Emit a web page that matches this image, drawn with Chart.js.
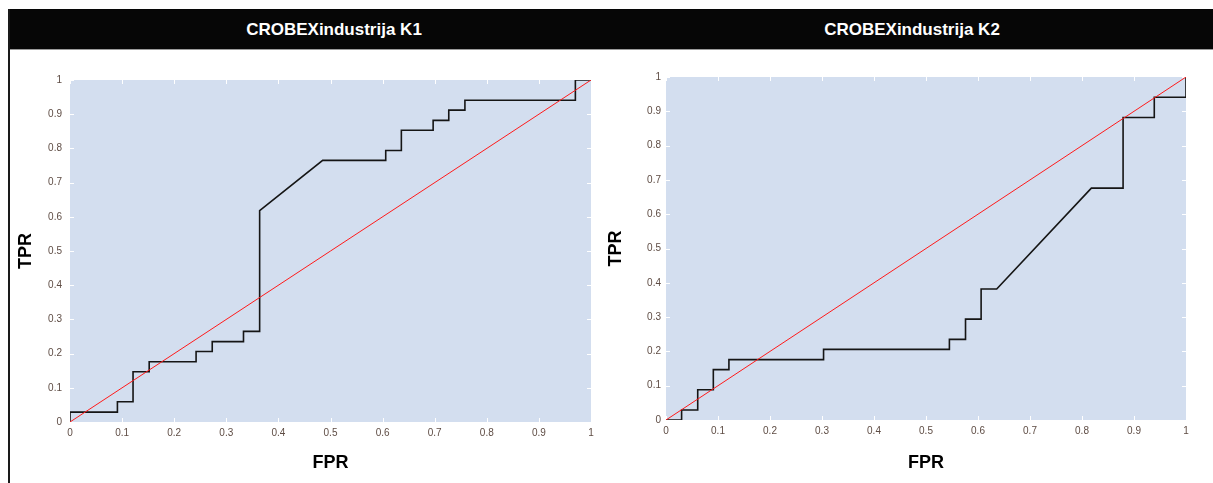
<!DOCTYPE html>
<html><head><meta charset="utf-8">
<script src="https://cdn.jsdelivr.net/npm/chart.js@4/dist/chart.umd.min.js"></script>
<style>
html,body{margin:0;padding:0;background:#fff;width:1213px;height:483px;overflow:hidden;position:relative;font-family:'Liberation Sans',Arial,sans-serif;}
#bar{position:absolute;left:8px;top:9px;width:1205px;height:40px;background:#060606;border-bottom:1px solid #9a9a9a;}
.t{position:absolute;top:9px;height:40px;line-height:41px;color:#fff;font-weight:bold;font-size:17px;transform:translateX(-50%);white-space:nowrap;}
#lb{position:absolute;left:8px;top:9px;width:2px;height:474px;background:#1a1a1a;}
#c1{position:absolute;left:0;top:50px;}
#c2{position:absolute;left:605px;top:50px;}
</style></head>
<body>
<canvas id="c1" width="605" height="433"></canvas>
<canvas id="c2" width="608" height="433"></canvas>
<div id="bar"></div>
<div class="t" style="left:334px">CROBEXindustrija K1</div>
<div class="t" style="left:912px">CROBEXindustrija K2</div>
<div id="lb"></div>
<script>
// ROC curve K1 (FPR, TPR)
const fprK1 = [0, 0, 0.091, 0.091, 0.121, 0.121, 0.152, 0.152, 0.242, 0.242, 0.273, 0.273, 0.333, 0.333, 0.364, 0.364, 0.485, 0.606, 0.606, 0.636, 0.636, 0.697, 0.697, 0.727, 0.727, 0.758, 0.758, 0.970, 0.970, 1];
const tprK1 = [0, 0.029, 0.029, 0.059, 0.059, 0.147, 0.147, 0.176, 0.176, 0.206, 0.206, 0.235, 0.235, 0.265, 0.265, 0.618, 0.765, 0.765, 0.794, 0.794, 0.853, 0.853, 0.882, 0.882, 0.912, 0.912, 0.941, 0.941, 1, 1];
// ROC curve K2 (FPR, TPR)
const fprK2 = [0, 0.030, 0.030, 0.061, 0.061, 0.091, 0.091, 0.121, 0.121, 0.303, 0.303, 0.545, 0.545, 0.576, 0.576, 0.606, 0.606, 0.636, 0.818, 0.879, 0.879, 0.939, 0.939, 1, 1];
const tprK2 = [0, 0, 0.029, 0.029, 0.088, 0.088, 0.147, 0.147, 0.176, 0.176, 0.206, 0.206, 0.235, 0.235, 0.294, 0.294, 0.382, 0.382, 0.676, 0.676, 0.882, 0.882, 0.941, 0.941, 1];
// reference diagonal
const diagX = [0, 1];
const diagY = [0, 1];
// tick labels
const tickLabels = ['0', '0.1', '0.2', '0.3', '0.4', '0.5', '0.6', '0.7', '0.8', '0.9', '1'];
const tickValues = [0, 0.1, 0.2, 0.3, 0.4, 0.5, 0.6, 0.7, 0.8, 0.9, 1];

const pts = (xs, ys) => xs.map((x, i) => ({x: x, y: ys[i]}));

const bgPlugin = {
  id: 'plotBg',
  beforeDatasetsDraw(chart) {
    const a = chart.chartArea, ctx = chart.ctx;
    ctx.save();
    ctx.fillStyle = '#d3deef';
    ctx.fillRect(a.left, a.top, a.right - a.left, a.bottom - a.top);
    // inward white tick marks on all four edges
    ctx.strokeStyle = '#ffffff';
    ctx.lineWidth = 1;
    const L = 4;
    const xs = chart.scales.x, ys = chart.scales.y;
    ctx.beginPath();
    tickValues.forEach(v => {
      const px = Math.round(xs.getPixelForValue(v)) + 0.5;
      ctx.moveTo(px, a.bottom); ctx.lineTo(px, a.bottom - L);
      ctx.moveTo(px, a.top); ctx.lineTo(px, a.top + L);
      const py = Math.round(ys.getPixelForValue(v)) + 0.5;
      ctx.moveTo(a.left, py); ctx.lineTo(a.left + L, py);
      ctx.moveTo(a.right, py); ctx.lineTo(a.right - L, py);
    });
    ctx.stroke();
    ctx.restore();
  }
};

function makeChart(id, fx, ty, cfg) {
  return new Chart(document.getElementById(id), {
    type: 'line',
    data: {
      datasets: [
        {data: pts(diagX, diagY), borderColor: '#ff1a1a', borderWidth: 1, pointRadius: 0, tension: 0, fill: false},
        {data: pts(fx, ty), borderColor: '#151515', borderWidth: 1.6, pointRadius: 0, tension: 0, fill: false}
      ]
    },
    options: {
      responsive: false,
      animation: false,
      devicePixelRatio: 1,
      layout: {padding: {top: cfg.top, right: cfg.right, left: 0, bottom: 0}},
      plugins: {legend: {display: false}, tooltip: {enabled: false}},
      scales: {
        x: {
          type: 'linear', min: 0, max: 1,
          afterFit: s => { s.height = cfg.xh; },
          afterBuildTicks: s => { s.ticks = tickValues.map(v => ({value: v})); },
          grid: {display: false, drawTicks: false},
          border: {display: false},
          ticks: {
            padding: 5, maxRotation: 0, autoSkip: false,
            color: '#5e4c44', font: {family: "'Liberation Sans', Arial", size: 10},
            callback: (v, i) => tickLabels[i]
          },
          title: {display: true, text: 'FPR', color: '#000', font: {family: "'Liberation Sans', Arial", size: 18, weight: 'bold'}, padding: {top: 0, bottom: 9}}
        },
        y: {
          type: 'linear', min: 0, max: 1,
          afterFit: s => { s.width = cfg.yw; },
          afterBuildTicks: s => { s.ticks = tickValues.map(v => ({value: v})); },
          grid: {display: false, drawTicks: false},
          border: {display: false},
          ticks: {
            padding: cfg.ypad, autoSkip: false,
            color: '#5e4c44', font: {family: "'Liberation Sans', Arial", size: 10},
            callback: (v, i) => tickLabels[i]
          },
          title: {display: true, text: 'TPR', color: '#000', font: {family: "'Liberation Sans', Arial", size: 18, weight: 'bold'}, padding: {top: cfg.ytp, bottom: 0}}
        }
      }
    },
    plugins: [bgPlugin]
  });
}

makeChart('c1', fprK1, tprK1, {top: 30, right: 14, xh: 61, yw: 70, ypad: 8, ytp: 15});
makeChart('c2', fprK2, tprK2, {top: 27, right: 27, xh: 63, yw: 61, ypad: 5, ytp: 0});
</script>
</body></html>
